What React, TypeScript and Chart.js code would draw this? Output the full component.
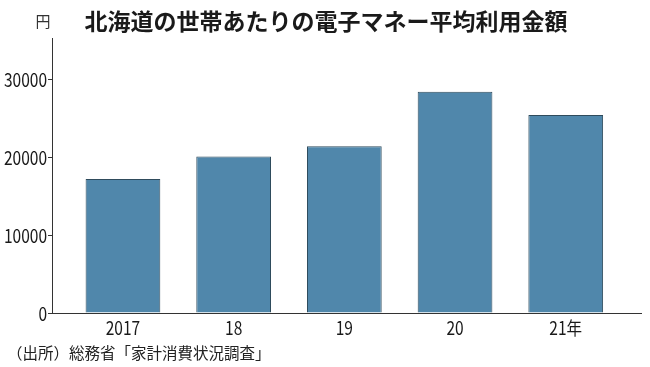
import React, { useEffect, useRef } from "react";
import { Chart, registerables } from "chart.js";

Chart.register(...registerables);

const categories = ["2017", "18", "19", "20", "21年"];
const values = [17200, 20100, 21400, 28400, 25400];
const yTicks = [0, 10000, 20000, 30000];
const titleText = "北海道の世帯あたりの電子マネー平均利用金額";
const unitText = "円";
const sourceText = "（出所）総務省「家計消費状況調査」";

const JP_FONT = '"Noto Sans CJK JP", sans-serif';
const SQUEEZE = 0.84;

function condensedText(ctx: any, text: string, x: number, y: number, align: "left" | "right" | "center") {
  ctx.save();
  ctx.translate(x, y);
  ctx.scale(SQUEEZE, 1);
  ctx.textAlign = align;
  ctx.fillText(text, 0, 0);
  ctx.restore();
}

const textPlugin = {
  id: "texts",
  afterDraw(chart: any) {
    const ctx = chart.ctx;
    ctx.save();
    ctx.fillStyle = "#1a1a1a";
    ctx.textBaseline = "middle";
    ctx.font = `bold 23px ${JP_FONT}`;
    ctx.textAlign = "center";
    ctx.fillText(titleText, 326, 21);
    ctx.font = `15px ${JP_FONT}`;
    ctx.fillStyle = "#333";
    ctx.fillText(unitText, 43, 21);
    ctx.textAlign = "left";
    ctx.fillStyle = "#222";
    ctx.font = `15.5px ${JP_FONT}`;
    ctx.fillText(sourceText, 7, 353);

    // tick labels, placed through the scales
    ctx.fillStyle = "#1a1a1a";
    ctx.font = `18.5px ${JP_FONT}`;
    const xs = chart.scales.x;
    const ys = chart.scales.y;
    categories.forEach((c, i) => {
      condensedText(ctx, c, xs.getPixelForValue(i), xs.bottom - xs.height + 15, "center");
    });
    yTicks.forEach((v) => {
      condensedText(ctx, String(v), ys.right - 5, ys.getPixelForValue(v) + 0.5, "right");
    });
    ctx.restore();
  },
};

export default function App() {
  const ref = useRef<HTMLCanvasElement>(null);
  useEffect(() => {
    document.body.style.margin = "0";
    const chart = new Chart(ref.current!, {
      type: "bar",
      data: {
        datasets: [
          {
            data: values.map((v, i) => ({ x: i, y: v })),
            backgroundColor: "#5087ab",
            borderColor: "#2f4b5c",
            borderWidth: 1,
            barPercentage: 0.675,
            categoryPercentage: 1,
          },
        ],
      },
      options: {
        responsive: false,
        animation: false,
        layout: { padding: { top: 38, right: 9, left: 0, bottom: 0 } },
        plugins: { legend: { display: false }, title: { display: false }, tooltip: { enabled: false } },
        scales: {
          x: {
            type: "linear",
            min: -0.641,
            max: 4.68,
            offset: false,
            afterFit: (s: any) => { s.height = 54; },
            afterBuildTicks: (s: any) => { s.ticks = categories.map((_, i) => ({ value: i })); },
            grid: { display: false, offset: false },
            border: { display: true, color: "#333", width: 1 },
            ticks: { display: false },
          },
          y: {
            min: 0,
            max: 35300,
            afterFit: (s: any) => { s.width = 52; },
            afterBuildTicks: (s: any) => { s.ticks = yTicks.map((v) => ({ value: v })); },
            grid: { drawOnChartArea: false, tickLength: 4, color: "#333" },
            border: { display: true, color: "#333", width: 1 },
            ticks: { display: false },
          },
        },
      },
      plugins: [textPlugin],
    } as any);
    return () => chart.destroy();
  }, []);
  return <canvas ref={ref} width={650} height={367} style={{ display: "block" }} />;
}
